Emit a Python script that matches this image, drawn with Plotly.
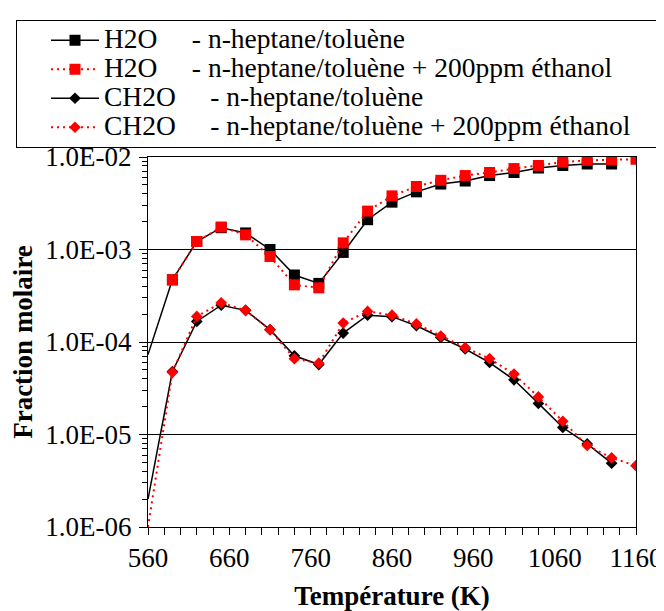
import plotly.graph_objects as go

# Temperatures (K)
temp_h2o_ref = [560, 590, 620, 650, 680, 710, 740, 770, 800, 830, 860, 890, 920, 950, 980, 1010, 1040, 1070, 1100, 1130]
temp_h2o_eth = [590, 620, 650, 680, 710, 740, 770, 800, 830, 860, 890, 920, 950, 980, 1010, 1040, 1070, 1100, 1130, 1160]
temp_ch2o_ref = [560, 590, 620, 650, 680, 710, 740, 770, 800, 830, 860, 890, 920, 950, 980, 1010, 1040, 1070, 1100, 1130]
temp_ch2o_eth = [560, 590, 620, 650, 680, 710, 740, 770, 800, 830, 860, 890, 920, 950, 980, 1010, 1040, 1070, 1100, 1130, 1160]

# Mole fractions
h2o_ref = [7.3e-5, 4.7e-4, 1.22e-3, 1.72e-3, 1.51e-3, 1.0e-3, 5.3e-4, 4.3e-4, 9.3e-4, 2.1e-3,
           3.25e-3, 4.2e-3, 5.1e-3, 5.5e-3, 6.3e-3, 6.8e-3, 7.6e-3, 8.1e-3, 8.4e-3, 8.4e-3]
h2o_eth = [4.7e-4, 1.22e-3, 1.75e-3, 1.44e-3, 8.4e-4, 4.15e-4, 3.85e-4, 1.18e-3, 2.6e-3, 3.8e-3,
           4.8e-3, 5.6e-3, 6.3e-3, 6.8e-3, 7.5e-3, 8.1e-3, 8.8e-3, 9.2e-3, 9.3e-3, 9.45e-3]
ch2o_ref = [2.0e-6, 4.8e-5, 1.67e-4, 2.5e-4, 2.2e-4, 1.36e-4, 7.1e-5, 5.7e-5, 1.25e-4, 1.95e-4,
            1.88e-4, 1.5e-4, 1.12e-4, 8.4e-5, 6.0e-5, 3.9e-5, 2.17e-5, 1.19e-5, 7.9e-6, 4.9e-6]
ch2o_eth = [1.0e-6, 4.7e-5, 1.89e-4, 2.65e-4, 2.2e-4, 1.36e-4, 6.6e-5, 5.9e-5, 1.6e-4, 2.14e-4,
            1.95e-4, 1.57e-4, 1.16e-4, 8.7e-5, 6.6e-5, 4.5e-5, 2.55e-5, 1.39e-5, 7.6e-6, 5.6e-6, 4.6e-6]

NB = "\u00a0"
names = [
    "H2O" + NB * 5 + "- n-heptane/toluène",
    "H2O" + NB * 5 + "- n-heptane/toluène + 200ppm éthanol",
    "CH2O" + NB * 5 + "- n-heptane/toluène",
    "CH2O" + NB * 5 + "- n-heptane/toluène + 200ppm éthanol" + NB * 4,
]

y_tickvals = [1e-6, 1e-5, 1e-4, 1e-3, 1e-2]
y_ticktext = ["1.0E-06", "1.0E-05", "1.0E-04", "1.0E-03", "1.0E-02"]
x_tickvals = [560, 660, 760, 860, 960, 1060, 1160]

FONT = "Liberation Serif"


def big(t):
    return '<span style="font-size:27.5px">' + t + '</span>'


BLACK_LINE = dict(color="black", width=1.5)
RED_LINE = dict(color="red", width=2, dash="2px,4px")

fig = go.Figure()

# line-only segments starting at 560 K (no marker drawn there)
fig.add_trace(go.Scatter(x=temp_h2o_ref[:2], y=h2o_ref[:2], mode="lines", line=BLACK_LINE,
                         showlegend=False, hoverinfo="skip"))
fig.add_trace(go.Scatter(x=temp_ch2o_ref[:2], y=ch2o_ref[:2], mode="lines", line=BLACK_LINE,
                         showlegend=False, hoverinfo="skip"))
fig.add_trace(go.Scatter(x=temp_ch2o_eth[:2], y=ch2o_eth[:2], mode="lines", line=RED_LINE,
                         showlegend=False, hoverinfo="skip"))

fig.add_trace(go.Scatter(x=temp_h2o_ref[1:], y=h2o_ref[1:], name=big(names[0]), mode="lines+markers",
                         line=BLACK_LINE, marker=dict(symbol="square", size=11, color="black")))
fig.add_trace(go.Scatter(x=temp_h2o_eth, y=h2o_eth, name=big(names[1]), mode="lines+markers",
                         line=RED_LINE, marker=dict(symbol="square", size=11, color="red")))
fig.add_trace(go.Scatter(x=temp_ch2o_ref[1:], y=ch2o_ref[1:], name=big(names[2]), mode="lines+markers",
                         line=BLACK_LINE, marker=dict(symbol="diamond", size=9, color="black")))
fig.add_trace(go.Scatter(x=temp_ch2o_eth[1:], y=ch2o_eth[1:], name=big(names[3]), mode="lines+markers",
                         line=RED_LINE, marker=dict(symbol="diamond", size=9, color="red")))

minor_y = [m * 10 ** e for e in range(-6, -2) for m in range(2, 10)]

# page body adds an 8px offset, so the figure is 656x603
fig.update_layout(
    width=656, height=603,
    margin=dict(l=140, r=28, t=139, b=84),
    paper_bgcolor="white", plot_bgcolor="white",
    font=dict(family=FONT, size=27, color="black"),
    showlegend=True,
    legend=dict(x=-0.2623, y=1.371, xanchor="left", yanchor="top",
                bordercolor="black", borderwidth=1, bgcolor="white",
                font=dict(family=FONT, size=20, color="black"),
                tracegroupgap=0, itemwidth=48, indentation=29),
    xaxis=dict(range=[560, 1160], tickmode="array", tickvals=x_tickvals,
               ticks="outside", ticklen=7, tickwidth=1, tickcolor="black",
               minor=dict(dtick=20, tick0=560, ticks="outside", ticklen=7, tickcolor="black"),
               showline=True, linecolor="black", linewidth=1, mirror=True,
               showgrid=False, zeroline=False, ticklabelstandoff=0, automargin=False,
               title=dict(text="<b>Température (K)</b>", font=dict(family=FONT, size=27), standoff=19)),
    yaxis=dict(type="log", range=[-6, -2], tickmode="array", tickvals=y_tickvals, ticktext=y_ticktext,
               ticks="outside", ticklen=8, tickwidth=1, tickcolor="black",
               minor=dict(tickmode="array", tickvals=minor_y, ticks="outside", ticklen=5,
                          tickcolor="black", showgrid=False),
               showline=True, linecolor="black", linewidth=1, mirror=True,
               showgrid=True, gridcolor="black", gridwidth=1, zeroline=False,
               ticklabelstandoff=2, automargin=False,
               title=dict(text="<b>Fraction molaire</b>", font=dict(family=FONT, size=27), standoff=19)),
)

fig.write_html("out.html")
